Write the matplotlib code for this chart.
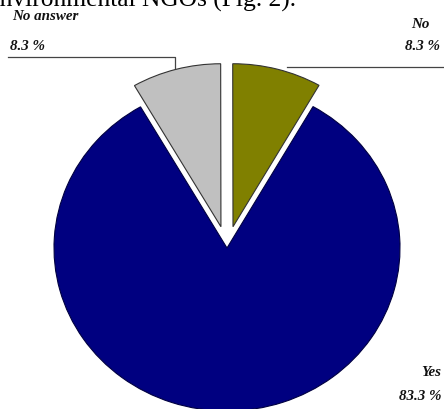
import matplotlib
matplotlib.use("Agg")
import matplotlib.pyplot as plt

# Data
categories = ["Yes", "No", "No answer"]
values = [83.3, 8.3, 8.3]
pct_labels = ["83.3 %", "8.3 %", "8.3 %"]
colors = ["#000080", "#808000", "#C0C0C0"]

W, H = 444, 409
fig = plt.figure(figsize=(W / 100, H / 100), dpi=100)

# Pie axes: slightly stretched horizontally (elliptical pie as in the original)
sx = 173 / 163
axp = fig.add_axes([0, 0, 1, 1])
R = 163
cx, cy = 227 / sx, H - 248
explode = [0, 22, 22]
wedges, _ = axp.pie(values, colors=colors, startangle=120, counterclock=True,
                    radius=R, center=(cx, cy), explode=explode,
                    wedgeprops=dict(linewidth=0.8))
wedges[0].set_edgecolor("#000040")
for w in wedges[1:]:
    w.set_edgecolor("#333333")
axp.set_xlim(0, W / sx)
axp.set_ylim(0, H)
axp.set_aspect("auto")
axp.axis("off")

# Overlay axes in pixel coordinates for labels and leader lines
ax = fig.add_axes([0, 0, 1, 1])
ax.set_xlim(0, W)
ax.set_ylim(0, H)
ax.axis("off")
ax.patch.set_alpha(0)

def Y(y):
    return H - y

lab = dict(family="Liberation Serif", fontweight="bold", fontstyle="italic",
           fontsize=10.8, color="#111111")

# Leader lines
ax.plot([8, 175, 175], [Y(57), Y(57), Y(68)], color="#444444", lw=0.9)
ax.plot([287, 444], [Y(67), Y(67)], color="#444444", lw=0.9)

# Labels
ax.text(12, Y(17), categories[2], ha="left", va="center", **lab)
ax.text(10, Y(46), pct_labels[2], ha="left", va="center", **lab)
ax.text(430, Y(24), categories[1], ha="right", va="center", **lab)
ax.text(440, Y(47), pct_labels[1], ha="right", va="center", **lab)
ax.text(441, Y(373), categories[0], ha="right", va="center", **lab)
ax.text(441, Y(397), pct_labels[0], ha="right", va="center", **lab)

# Cropped line of surrounding document text
ax.text(296, Y(7), "Environmental NGOs (Fig. 2).", ha="right", va="baseline",
        family="Liberation Serif", fontsize=18.4, color="black")

fig.savefig("out.png", dpi=100)
